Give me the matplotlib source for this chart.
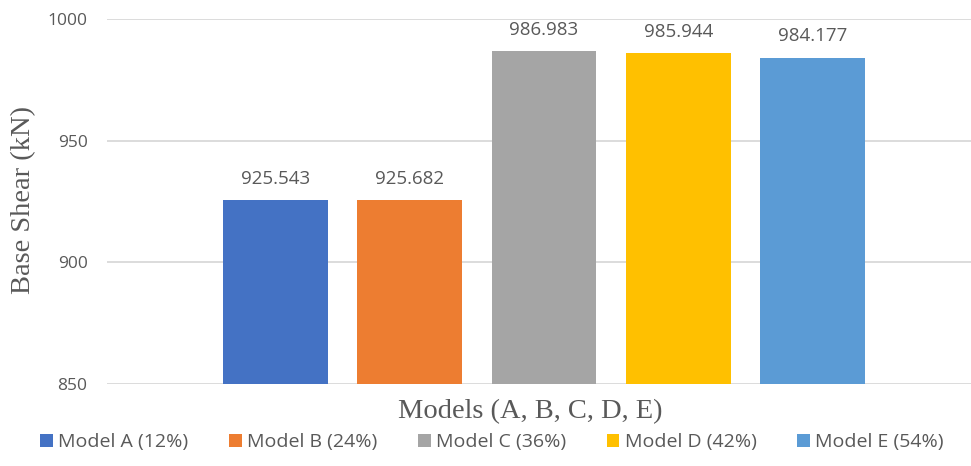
import matplotlib.pyplot as plt
from matplotlib.patches import Patch

models = ['Model A (12%)', 'Model B (24%)', 'Model C (36%)', 'Model D (42%)', 'Model E (54%)']
base_shear = [925.543, 925.682, 986.983, 985.944, 984.177]
colors = ['#4472C4', '#ED7D31', '#A5A5A5', '#FFC000', '#5B9BD5']
yticks = [850, 900, 950, 1000]

W, H = 971, 466
fig = plt.figure(figsize=(W / 100, H / 100), dpi=100)
ax = fig.add_axes([107 / W, (H - 384) / H, (971 - 107) / W, (384 - 19) / H])

txt = '#595959'
sans = ['Open Sans', 'DejaVu Sans']
serif = ['Liberation Serif', 'DejaVu Serif']

xs = range(len(models))
ax.bar(xs, [v - 850 for v in base_shear], bottom=850, width=0.78, color=colors, zorder=3)
for x, v in zip(xs, base_shear):
    ax.text(x, v + 5, f'{v:.3f}', ha='center', va='bottom', fontsize=13.5,
            color=txt, family=sans)

ax.set_xlim(-1.255, 5.18)
ax.set_ylim(850, 1000)
ax.set_yticks(yticks)
ax.set_yticklabels([str(t) for t in yticks], family=sans, fontsize=12.5, color=txt)
ax.set_xticks([])
ax.tick_params(axis='y', length=0, pad=14)
ax.grid(axis='y', color='#D9D9D9', linewidth=1.3, zorder=0)
for s in ax.spines.values():
    s.set_visible(False)

fig.text(24 / W, 1 - 200 / H, 'Base Shear (kN)', family=serif, fontsize=20.5,
         color=txt, ha='center', va='center', rotation=90)
fig.text(530 / W, 1 - 412 / H, 'Models (A, B, C, D, E)', family=serif, fontsize=20.5,
         color=txt, ha='center', va='center')

handles = [Patch(facecolor=c, edgecolor='none') for c in colors]
fig.legend(handles, models, loc='center', bbox_to_anchor=(492 / W, 1 - 442 / H), ncol=5,
           frameon=False, prop={'family': sans, 'size': 14}, labelcolor=txt,
           handlelength=0.65, handleheight=0.65, handletextpad=0.27, columnspacing=2.1)

fig.savefig('out.png', dpi=100)
